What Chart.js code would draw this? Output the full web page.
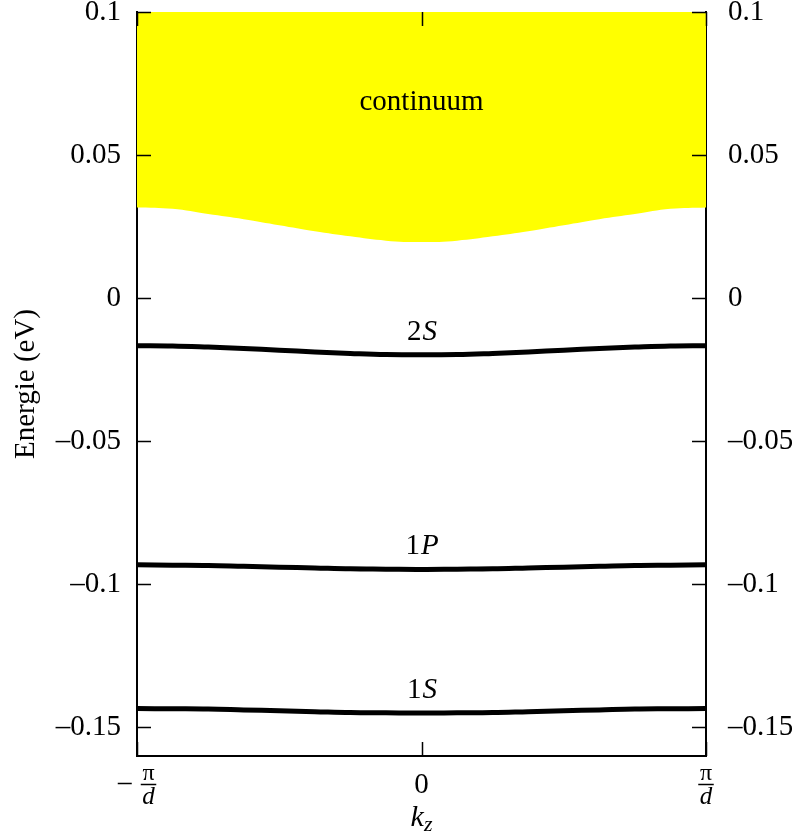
<!DOCTYPE html>
<html>
<head>
<meta charset="utf-8">
<script src="https://cdn.jsdelivr.net/npm/chart.js@4.4.0/dist/chart.umd.min.js"></script>
<style>
  html, body { margin: 0; padding: 0; background: #fff; }
  canvas { display: block; }
</style>
</head>
<body>
<canvas id="bands" width="792" height="838"></canvas>
<script>
// k_z in units of pi/d
const kz = [-1, -0.875, -0.75, -0.625, -0.5, -0.375, -0.25, -0.125, 0,
            0.125, 0.25, 0.375, 0.5, 0.625, 0.75, 0.875, 1];
const continuumEdge = [0.0317, 0.0312, 0.0294, 0.0276, 0.0255, 0.0234, 0.0216, 0.0201, 0.0196,
                       0.0201, 0.0216, 0.0234, 0.0255, 0.0276, 0.0294, 0.0312, 0.0317];
const band2S = [-0.0166, -0.0167, -0.0171, -0.0176, -0.0182, -0.0188, -0.0193, -0.0197, -0.0198,
                -0.0197, -0.0193, -0.0188, -0.0182, -0.0176, -0.0171, -0.0167, -0.0166];
const band1P = [-0.0932, -0.0933, -0.0934, -0.0937, -0.0940, -0.0943, -0.0946, -0.0947, -0.0948,
                -0.0947, -0.0946, -0.0943, -0.0940, -0.0937, -0.0934, -0.0933, -0.0932];
const band1S = [-0.1434, -0.1435, -0.1436, -0.1439, -0.1442, -0.1445, -0.1448, -0.1449, -0.1450,
                -0.1449, -0.1448, -0.1445, -0.1442, -0.1439, -0.1436, -0.1435, -0.1434];
const bandNames = [['2', 'S'], ['1', 'P'], ['1', 'S']];
const yTicks = [-0.15, -0.1, -0.05, 0, 0.05, 0.1];
const xTicks = [-1, 0, 1];
const xTickLabels = ['\u2212\u03c0/d', '0', '\u03c0/d'];

const SERIF = 'Liberation Serif';
const pts = arr => kz.map((k, i) => ({ x: k, y: arr[i] }));

const bandStyle = {
  borderColor: '#000',
  borderWidth: 5,
  pointRadius: 0,
  fill: false,
  tension: 0.4
};

const data = {
  datasets: [
    {
      label: 'continuum',
      data: pts(continuumEdge),
      borderWidth: 0,
      borderColor: 'rgba(0,0,0,0)',
      backgroundColor: '#ffff00',
      pointRadius: 0,
      fill: 'end',
      tension: 0.4
    },
    { label: '2S', data: pts(band2S), ...bandStyle },
    { label: '1P', data: pts(band1P), ...bandStyle },
    { label: '1S', data: pts(band1S), ...bandStyle }
  ]
};

const fmt = v => (v < 0 ? '\u2013' + String(Math.abs(v)) : String(v));

const yAxis = (pos, width, pad) => ({
  type: 'linear',
  position: pos,
  min: -0.16,
  max: 0.1,
  z: 1,
  grid: { display: false, drawTicks: false },
  border: { display: true, color: '#000', width: 2 },
  ticks: {
    color: '#000',
    padding: pad,
    font: { family: SERIF, size: 29 },
    callback: v => fmt(v)
  },
  afterBuildTicks: s => { s.ticks = yTicks.map(v => ({ value: v })); },
  afterFit: s => { s.width = width; s.paddingTop = 0; s.paddingBottom = 0; }
});

const decor = {
  id: 'decor',
  afterDraw(chart) {
    const { ctx, chartArea: a, scales } = chart;
    const x = scales.x, y = scales.y;
    ctx.save();
    ctx.strokeStyle = '#000';
    ctx.fillStyle = '#000';

    // inward tick marks
    ctx.lineWidth = 1.5;
    ctx.beginPath();
    yTicks.forEach(v => {
      const py = Math.round(y.getPixelForValue(v)) + 0.5;
      ctx.moveTo(a.left, py); ctx.lineTo(a.left + 14, py);
      ctx.moveTo(a.right, py); ctx.lineTo(a.right - 14, py);
    });
    xTicks.forEach(v => {
      const px = Math.round(x.getPixelForValue(v)) + 0.5;
      ctx.moveTo(px, a.bottom); ctx.lineTo(px, a.bottom - 14);
      ctx.moveTo(px, a.top); ctx.lineTo(px, a.top + 14);
    });
    ctx.stroke();

    // band names above the curves at k_z = 0
    const i0 = kz.indexOf(0);
    [band2S, band1P, band1S].forEach((b, j) => {
      const [num, letter] = bandNames[j];
      const py = y.getPixelForValue(b[i0]) - 15;
      const px = x.getPixelForValue(0);
      ctx.font = '29px ' + SERIF;
      const w1 = ctx.measureText(num).width;
      ctx.font = 'italic 29px ' + SERIF;
      const w2 = ctx.measureText(letter).width;
      const x0 = px - (w1 + w2) / 2;
      ctx.textAlign = 'left';
      ctx.textBaseline = 'alphabetic';
      ctx.font = '29px ' + SERIF;
      ctx.fillText(num, x0, py);
      ctx.font = 'italic 29px ' + SERIF;
      ctx.fillText(letter, x0 + w1 + 1, py);
    });

    // continuum label
    ctx.font = '29px ' + SERIF;
    ctx.textAlign = 'center';
    ctx.fillText('continuum', x.getPixelForValue(0), 110);

    // x tick labels (fractions)
    xTicks.forEach((v, i) => {
      const px = x.getPixelForValue(v);
      let lab = xTickLabels[i];
      if (lab.indexOf('/') < 0) {
        ctx.font = '29px ' + SERIF;
        ctx.textAlign = 'center';
        ctx.fillText(lab, px, 793);
        return;
      }
      const neg = lab[0] === '\u2212';
      if (neg) lab = lab.slice(1);
      const [nu, de] = lab.split('/');
      ctx.font = '24px ' + SERIF;
      const wn = ctx.measureText(nu).width;
      ctx.font = 'italic 25px ' + SERIF;
      const wd = ctx.measureText(de).width;
      const fw = Math.max(wn, wd) + 3;
      const mw = neg ? 14 : 0, gap = neg ? 9 : 0;
      const left = px - (mw + gap + fw) / 2;
      const fc = left + mw + gap + fw / 2;
      ctx.lineWidth = 1.5;
      ctx.beginPath();
      if (neg) { ctx.moveTo(left, 783.5); ctx.lineTo(left + mw, 783.5); }
      ctx.moveTo(fc - fw / 2, 784.5); ctx.lineTo(fc + fw / 2, 784.5);
      ctx.stroke();
      ctx.textAlign = 'center';
      ctx.font = '24px ' + SERIF;
      ctx.fillText(nu, fc, 780);
      ctx.font = 'italic 25px ' + SERIF;
      ctx.fillText(de, fc, 804);
    });

    // x title k_z
    ctx.textAlign = 'left';
    ctx.font = 'italic 30px ' + SERIF;
    const wk = ctx.measureText('k').width;
    ctx.font = 'italic 22px ' + SERIF;
    const wz = ctx.measureText('z').width;
    const kx = x.getPixelForValue(0) - (wk + wz) / 2;
    ctx.font = 'italic 30px ' + SERIF;
    ctx.fillText('k', kx, 826);
    ctx.font = 'italic 22px ' + SERIF;
    ctx.fillText('z', kx + wk, 831);

    // y title
    ctx.save();
    ctx.translate(34, 384);
    ctx.rotate(-Math.PI / 2);
    ctx.textAlign = 'center';
    ctx.font = '29px ' + SERIF;
    ctx.fillText('Energie (eV)', 0, 0);
    ctx.restore();

    ctx.restore();
  }
};

const config = {
  type: 'line',
  data: data,
  options: {
    responsive: false,
    animation: false,
    devicePixelRatio: 1,
    layout: { padding: { top: 12, left: 0, right: 0, bottom: 0 } },
    plugins: {
      legend: { display: false },
      tooltip: { enabled: false }
    },
    scales: {
      x: {
        type: 'linear',
        min: -1,
        max: 1,
        z: 1,
        grid: { display: false, drawTicks: false },
        border: { display: true, color: '#000', width: 2 },
        ticks: { display: false },
        afterFit: s => { s.height = 82; s.paddingLeft = 0; s.paddingRight = 0; }
      },
      y: yAxis('left', 137, 16),
      y2: yAxis('right', 86, 22)
    }
  },
  plugins: [decor]
};

const chart = new Chart(document.getElementById('bands'), config);
</script>
</body>
</html>
